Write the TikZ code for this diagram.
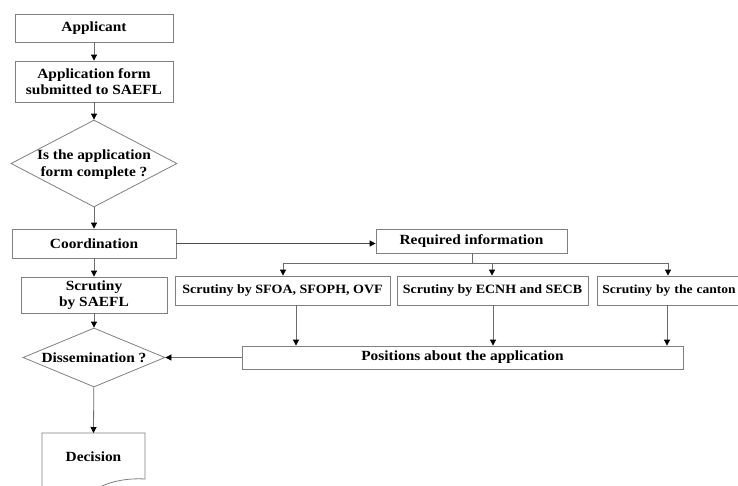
\documentclass[tikz,border=0pt]{standalone}
\usepackage{fontspec}
\setmainfont{Liberation Serif}[FakeStretch=1.1]
\usetikzlibrary{shapes.geometric,arrows.meta}
\tikzset{
  box/.style={draw=gray, line width=0.8pt, fill=white, inner sep=0pt, align=center,
    font=\fontsize{14}{16}\selectfont\bfseries},
  sbox/.style={box, font=\fontsize{12.7}{15}\selectfont\bfseries},
  dia/.style={draw=gray, line width=0.8pt, diamond, inner sep=0pt},
  lbl/.style={align=center, inner sep=0pt, font=\fontsize{14}{17}\selectfont\bfseries},
  conn/.style={draw=gray!85!black, line width=0.8pt},
  arr/.style={conn, -{Triangle[width=6pt,length=6pt,black]}},
}
\begin{document}
\begin{tikzpicture}[x=1pt,y=-1pt]
\useasboundingbox (0,0) rectangle (738,485);
\clip (0,0) rectangle (738,485);
\fill[white] (0,0) rectangle (738,485);
% left column
\node[box, minimum width=158pt, minimum height=28pt] (app) at (94,28) {Applicant};
\node[box, minimum width=158pt, minimum height=41pt] (form) at (94,81.5) {Application form\\submitted to SAEFL};
\node[dia, minimum width=166pt, minimum height=87pt] (q1) at (94,163.5) {};
\node[lbl] (q1t) at (94,165) {Is the application\\form complete ?};
\node[box, minimum width=164pt, minimum height=29pt] (coord) at (94,243.5) {Coordination};
\node[box, minimum width=146pt, minimum height=36pt] (scr) at (94,295) {Scrutiny\\by SAEFL};
\node[dia, minimum width=142pt, minimum height=59pt] (diss) at (94,357.5) {};
\node[lbl] (disst) at (94,357.5) {Dissemination ?};
% decision document
\coordinate (dtop) at (93.5,433);
\draw[draw=gray, line width=0.8pt] (42,490) -- (42,433) -- (145,433) -- (145,479)
  .. controls (128,478) and (112,481) .. (100,487);
\node[lbl] (dec) at (93.5,457) {Decision};
% right part
\node[box, minimum width=191pt, minimum height=24pt] (req) at (471.5,241) {Required information};
\node[sbox, minimum width=215pt, minimum height=29pt] (sfoa) at (282.5,290.5) {Scrutiny by SFOA, SFOPH, OVF};
\node[sbox, minimum width=191pt, minimum height=29pt] (ecnh) at (492.5,290.5) {Scrutiny by ECNH and SECB};
\node[sbox, font=\fontsize{12.3}{15}\selectfont\bfseries, minimum height=29pt,
  inner xsep=5pt, text width=150pt, align=left, anchor=west] (cant) at (597,290.5) {Scrutiny by the canton};
\node[box, minimum width=441pt, minimum height=23pt] (pos) at (462.5,357.5) {Positions about the application};
% branch coordinates
\coordinate (bj) at (472,263);
\coordinate (b1) at (283,263);
\coordinate (b2) at (492,263);
\coordinate (b3) at (668,263);
% connectors
\draw[arr] (app) -- (form);
\draw[arr] (form) -- (q1);
\draw[arr] (q1) -- (coord);
\draw[arr] (coord) -- (scr);
\draw[arr] (scr) -- (diss);
\draw[arr] (diss) -- (dtop);
\draw[arr, draw=black!70] (coord.east) -- (coord.east -| req.west);
\draw[conn] (req.south -| bj) -- (bj);
\draw[conn] (b1) -- (b3);
\draw[arr] (b1) -- (b1 |- sfoa.north);
\draw[arr] (b2) -- (b2 |- ecnh.north);
\draw[arr] (b3) -- (b3 |- cant.north);
\draw[arr] (sfoa.south -| 296,0) -- (pos.north -| 296,0);
\draw[arr] (ecnh.south -| 493,0) -- (pos.north -| 493,0);
\draw[arr] (cant.south -| 667,0) -- (pos.north -| 667,0);
\draw[arr] (pos.west) -- (diss.east);
\end{tikzpicture}
\end{document}
